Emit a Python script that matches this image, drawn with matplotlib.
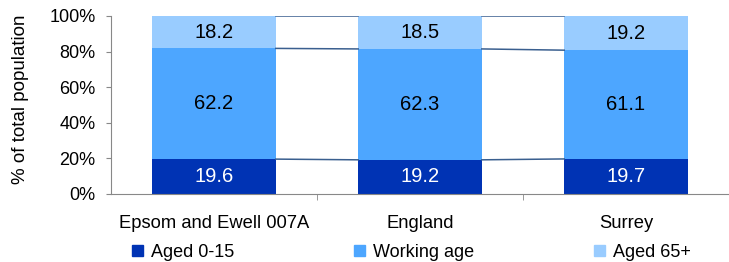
import matplotlib
matplotlib.use('Agg')
from matplotlib import pyplot as plt
import numpy as np

plt.rcParams['font.family'] = ['Liberation Sans', 'DejaVu Sans']

areas = ['Epsom and Ewell 007A', 'England', 'Surrey']
series = ['Aged 0-15', 'Working age', 'Aged 65+']
aged_0_15 = [19.6, 19.2, 19.7]
working_age = [62.2, 62.3, 61.1]
aged_65 = [18.2, 18.5, 19.2]

COLORS = ['#0033B4', '#4DA6FF', '#99CCFF']
LABEL_COLORS = ['white', 'black', 'black']

fig = plt.figure(figsize=(7.29, 2.62), dpi=100)
ax = fig.add_axes([111 / 729, 68 / 262, 618 / 729, 178 / 262])

x = np.arange(len(areas))
width = 0.6
values = np.array([aged_0_15, working_age, aged_65])
totals = values.sum(axis=0)
shares = values / totals * 100
bottom = np.zeros(len(areas))
for i, name in enumerate(series):
    ax.bar(x, shares[i], width, bottom=bottom, color=COLORS[i],
           label=name, zorder=2)
    for j in range(len(areas)):
        ax.text(x[j], bottom[j] + shares[i][j] / 2, f"{values[i][j]:.1f}",
                ha='center', va='center', fontsize=14.5, color=LABEL_COLORS[i])
    bottom = bottom + shares[i]
    # series lines between bars
    for j in range(len(areas) - 1):
        ax.plot([x[j] + width / 2, x[j + 1] - width / 2],
                [bottom[j], bottom[j + 1]], color='#3A5F8F', lw=1.1, zorder=3)

ax.set_xlim(-0.5, 2.5)
ax.set_ylim(0, 100)
ax.set_yticks(np.arange(0, 101, 20))
ax.set_yticklabels([f"{v}%" for v in range(0, 101, 20)], fontsize=13)
ax.set_ylabel('% of total population', fontsize=13.5)
ax.yaxis.set_label_coords(-0.132, 0.534)
ax.set_xticks(x)
ax.set_xticklabels(areas, fontsize=13.2)
ax.set_xticks([0.5, 1.5], minor=True)
ax.tick_params(axis='x', which='major', length=0, pad=15)
ax.tick_params(axis='x', which='minor', length=4, color='#888888')
ax.tick_params(axis='y', length=3.6, color='#888888', pad=7.5)

for s in ['top', 'right']:
    ax.spines[s].set_visible(False)
ax.spines['left'].set_color('#888888')
ax.spines['bottom'].set_color('#888888')

handles = [plt.Rectangle((0, 0), 1, 1, color=c) for c in COLORS]
fig.legend(handles, series, loc='center', bbox_to_anchor=(0.5645, 0.036), ncol=3,
           frameon=False, fontsize=13, handlelength=0.61, handleheight=0.61,
           handletextpad=0.44, columnspacing=6.65)

fig.savefig('out.png', dpi=100)
